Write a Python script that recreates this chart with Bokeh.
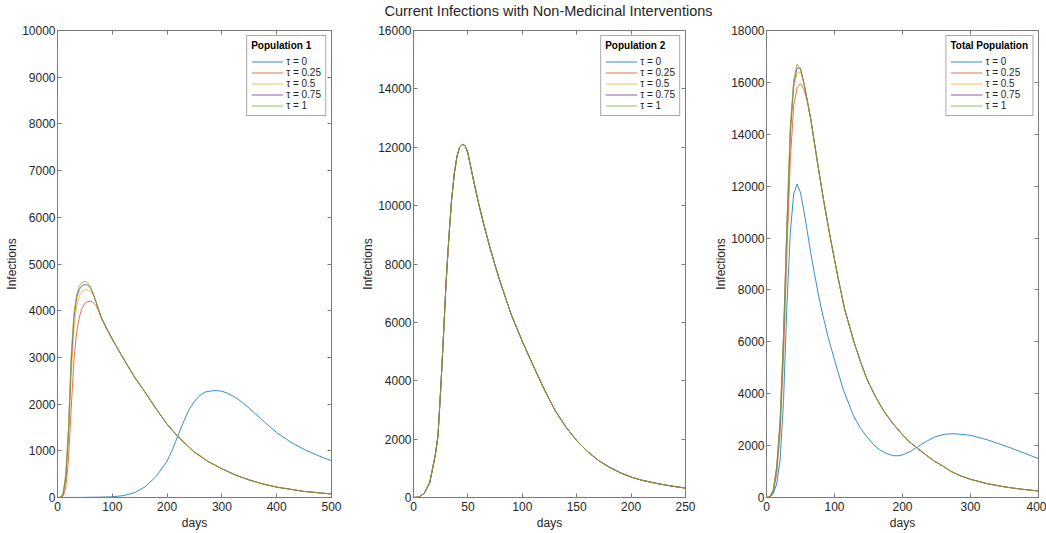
from bokeh.plotting import figure
from bokeh.layouts import row, column
from bokeh.models import (Range1d, FixedTicker, LinearAxis, Legend, LegendItem,
                          CustomLabelingPolicy)
from bokeh.embed import file_html
from bokeh.resources import INLINE

# ---------------- data ----------------
taus = ["0", "0.25", "0.5", "0.75", "1"]
tau_colors = ["#0072BD", "#D95319", "#EDB120", "#7E2F8E", "#77AC30"]

# Population 1
p1_days_tau0 = [0, 25, 50, 75, 100, 120, 140, 160, 180, 200, 210, 220, 230, 240, 250, 260, 270,
                285, 290, 300, 310, 320, 330, 340, 350, 360, 370, 380, 390, 400, 425, 450, 475, 500]
p1_tau0 = [0, 1, 3, 8, 15, 40, 100, 230, 450, 780, 1030, 1330, 1620, 1880, 2060, 2190, 2260,
           2290, 2292, 2275, 2235, 2175, 2100, 2010, 1910, 1805, 1700, 1595, 1490, 1390, 1190,
           1030, 900, 786]
p1_days = [0, 5, 10, 15, 20, 25, 30, 35, 40, 45, 50, 55, 60, 65, 70, 75, 80, 90, 100, 120, 140,
           160, 180, 200, 220, 250, 275, 300, 325, 350, 375, 400, 450, 500]
p1_tail = [3390, 2980, 2590, 2250, 1900, 1570, 1300, 970, 770, 615, 480, 375, 290, 222, 130, 75]
p1_tau025 = [0, 2, 25, 200, 800, 1900, 2950, 3550, 3870, 4060, 4160, 4195, 4205, 4180, 4110, 3995,
             3850, 3610] + p1_tail
p1_tau05 = [0, 3, 40, 330, 1200, 2600, 3600, 4100, 4320, 4420, 4450, 4440, 4420, 4340, 4200, 4020,
            3850, 3610] + p1_tail
p1_tau075 = [0, 4, 60, 420, 1400, 2900, 3850, 4280, 4460, 4540, 4560, 4550, 4490, 4360, 4200, 4025,
             3850, 3610] + p1_tail
p1_tau1 = [0, 5, 80, 500, 1480, 3050, 3950, 4350, 4530, 4610, 4625, 4600, 4520, 4380, 4200, 4020,
           3850, 3610] + p1_tail

# Population 2 (all tau curves coincide)
p2_days = [0, 5, 10, 15, 20, 22.5, 25, 27.5, 30, 32.5, 35, 37.5, 40, 42.5, 45, 47.5, 50, 55, 60,
           65, 70, 75, 80, 90, 100, 110, 120, 130, 140, 150, 160, 170, 180, 190, 200, 210, 225,
           237.5, 250]
p2_values = [0, 15, 150, 520, 1450, 2100, 3700, 5500, 7400, 8900, 10200, 11100, 11700, 12000, 12100,
             12050, 11800, 10900, 10050, 9300, 8600, 7950, 7350, 6250, 5350, 4520, 3720, 2990,
             2420, 1950, 1570, 1270, 1040, 850, 700, 590, 470, 390, 322]

# Total population
p3_days_tau0 = [0, 5, 10, 15, 20, 25, 30, 35, 40, 45, 50, 55, 60, 65, 70, 75, 80, 90, 100, 113,
                128, 138, 148, 157, 167, 177, 187, 195, 202, 212, 222, 235, 247, 262, 276, 300,
                325, 355, 400]
p3_tau0 = [0, 15, 150, 520, 1450, 3700, 7400, 10200, 11700, 12080, 11750, 11050, 10250, 9450, 8700,
           8000, 7350, 6250, 5300, 4150, 3150, 2680, 2330, 2050, 1830, 1690, 1610, 1610, 1660,
           1780, 1950, 2160, 2330, 2440, 2460, 2400, 2220, 1950, 1500]
p3_days = [0, 5, 10, 15, 20, 25, 30, 35, 40, 45, 50, 55, 60, 65, 75, 85, 95, 105, 115, 128, 138,
           148, 160, 172, 185, 199, 210, 222, 235, 247, 260, 271, 285, 300, 325, 350, 375, 400]
p3_tail = [12900, 11300, 9850, 8500, 7250, 6050, 5250, 4550, 3900, 3350, 2880, 2450, 2150, 1900,
           1630, 1400, 1200, 1010, 840, 700, 530, 410, 320, 250]
p3_tau025 = [0, 20, 200, 900, 2500, 5400, 9400, 13000, 15100, 15800, 15950, 15750, 15250, 14600] + p3_tail
p3_tau05 = [0, 25, 260, 1100, 2800, 6000, 10200, 13900, 15800, 16350, 16400, 16000, 15300, 14600] + p3_tail
p3_tau075 = [0, 28, 280, 1150, 2900, 6150, 10400, 14100, 15950, 16550, 16550, 15980, 15300, 14600] + p3_tail
p3_tau1 = [0, 30, 300, 1200, 3000, 6300, 10600, 14300, 16100, 16700, 16500, 15950, 15300, 14600] + p3_tail

FONT = "Liberation Sans"
TXT = "#262626"
AX = "#7a7a7a"

NO_LABELS = """
const all = Array.from(indices);
for (const i of all) {
    if (typeof indices.unset === 'function') { indices.unset(i); }
    else if (typeof indices.delete === 'function') { indices.delete(i); }
}
return indices;
"""

TITLE_H = 24
PANEL_H = 533 - TITLE_H


def make_panel(width, left, right, xmax, xstep, ymax, ystep, series, legend_title):
    p = figure(width=width, height=PANEL_H, output_backend="svg", toolbar_location=None,
               x_range=Range1d(0, xmax), y_range=Range1d(0, ymax),
               min_border_left=left, min_border_right=right, min_border_top=30 - TITLE_H,
               min_border_bottom=36, background_fill_color="white",
               border_fill_color="white", outline_line_color=AX)
    p.grid.visible = False
    xt = FixedTicker(ticks=list(range(0, xmax + 1, xstep)))
    yt = FixedTicker(ticks=list(range(0, ymax + 1, ystep)))
    for ax in p.xaxis:
        ax.ticker = xt
        ax.axis_label = "days"
        ax.major_label_standoff = 4
        ax.axis_label_standoff = 2
    for ax in p.yaxis:
        ax.ticker = yt
        ax.axis_label = "Infections"
        ax.major_label_standoff = 2
        ax.axis_label_standoff = 0
    for ax in [p.below[0], p.left[0]]:
        ax.major_label_text_font_size = "12px"
        ax.axis_label_text_font_size = "12px"
    top = LinearAxis(ticker=xt, major_label_text_font_size="1px", major_label_standoff=0,
                     major_label_policy=CustomLabelingPolicy(code=NO_LABELS))
    rgt = LinearAxis(ticker=yt, major_label_text_font_size="1px", major_label_standoff=0,
                     major_label_policy=CustomLabelingPolicy(code=NO_LABELS))
    p.add_layout(top, "above")
    p.add_layout(rgt, "right")
    for ax in p.axis:
        ax.axis_line_color = AX
        ax.major_tick_line_color = AX
        ax.major_tick_in = 4
        ax.major_tick_out = 0
        ax.minor_tick_line_color = None
        ax.major_label_text_font = FONT
        ax.axis_label_text_font = FONT
        ax.major_label_text_color = TXT
        ax.axis_label_text_color = TXT
        ax.axis_label_text_font_style = "normal"
    items = []
    for (xs, ys), tau, col in zip(series, taus, tau_colors):
        r = p.line(xs, ys, line_color=col, line_width=0.8)
        items.append(LegendItem(label="\u03c4 = " + tau, renderers=[r]))
    leg = Legend(items=items, location="top_right", title=legend_title,
                 title_text_font=FONT, title_text_font_style="bold", title_text_font_size="10px",
                 title_text_color="black", title_standoff=5,
                 label_text_font=FONT, label_text_font_size="10px", label_text_color=TXT,
                 label_height=9, glyph_height=9, glyph_width=32, label_standoff=3, spacing=0,
                 padding=4, margin=5, border_line_color="#555555", border_line_width=1,
                 background_fill_color="white", background_fill_alpha=1)
    p.add_layout(leg)
    return p


s1 = [(p1_days_tau0, p1_tau0), (p1_days, p1_tau025), (p1_days, p1_tau05), (p1_days, p1_tau075),
      (p1_days, p1_tau1)]
s2 = [(p2_days, p2_values)] * 5
s3 = [(p3_days_tau0, p3_tau0), (p3_days, p3_tau025), (p3_days, p3_tau05), (p3_days, p3_tau075),
      (p3_days, p3_tau1)]

f1 = make_panel(356, 57, 25, 500, 100, 10000, 1000, s1, "Population 1")
f2 = make_panel(354, 57, 25, 250, 50, 16000, 2000, s2, "Population 2")
f3 = make_panel(336, 56, 8, 400, 100, 18000, 2000, s3, "Total Population")

# figure-wide title strip
ft = figure(width=1046, height=TITLE_H, output_backend="svg", toolbar_location=None,
            min_border_left=50, min_border_right=0, min_border_top=0, min_border_bottom=0,
            outline_line_color=None, background_fill_color="white", border_fill_color="white")
ft.axis.visible = False
ft.grid.visible = False
ft.title.text = "Current Infections with Non-Medicinal Interventions"
ft.title.align = "center"
ft.title.text_font = FONT
ft.title.text_font_size = "14.5px"
ft.title.text_font_style = "normal"
ft.title.text_color = TXT
ft.title.standoff = 0
ft.title.offset = 0

layout = column(ft, row(f1, f2, f3), spacing=0)
open("out.html", "w").write(file_html(layout, INLINE))
